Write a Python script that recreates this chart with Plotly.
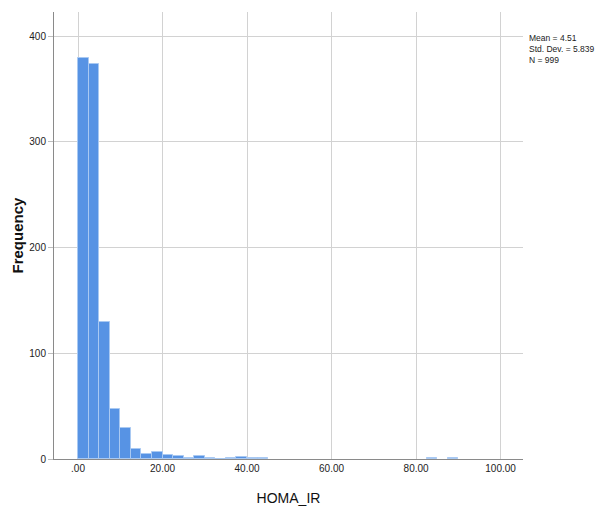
import plotly.graph_objects as go

# HOMA_IR histogram: bin lower edges (width 2.5) and frequencies
bin_width = 2.5
bin_starts = [0.0, 2.5, 5.0, 7.5, 10.0, 12.5, 15.0, 17.5, 20.0, 22.5,
              25.0, 27.5, 30.0, 32.5, 35.0, 37.5, 40.0, 42.5, 82.5, 87.5]
counts = [379, 374, 130, 47, 29, 9, 5, 7, 4, 3,
          1, 3, 1, 0, 1, 2, 1, 1, 1, 1]

x_ticks = [0, 20, 40, 60, 80, 100]
x_tick_labels = [".00", "20.00", "40.00", "60.00", "80.00", "100.00"]
y_ticks = [0, 100, 200, 300, 400]

stats_text = "Mean = 4.51<br>Std. Dev. = 5.839<br>N = 999"

centers = [s + bin_width / 2 for s in bin_starts]

fig = go.Figure(go.Bar(
    x=centers,
    y=counts,
    width=[bin_width] * len(counts),
    marker=dict(color="#5793e4", line=dict(color="#a9c9f2", width=1)),
    hoverinfo="x+y",
))

font_family = "Liberation Sans, Arial, sans-serif"

fig.update_layout(
    width=602,
    height=513,
    margin=dict(l=54, r=79, t=12, b=54),
    paper_bgcolor="white",
    plot_bgcolor="white",
    showlegend=False,
    bargap=0,
    font=dict(family=font_family, color="#222222", size=11),
    xaxis=dict(
        automargin=False,
        range=[-5.68, 105.3],
        tickvals=x_ticks,
        ticktext=x_tick_labels,
        showgrid=True,
        gridcolor="#d2d2d2",
        gridwidth=1,
        zeroline=False,
        showline=True,
        linecolor="#8a8a8a",
        linewidth=1,
        ticks="",
        tickfont=dict(size=10, color="#222222"),
        title=dict(text="HOMA_IR", font=dict(size=14, color="#111111"), standoff=20),
    ),
    yaxis=dict(
        automargin=False,
        range=[0, 422.7],
        tickvals=y_ticks,
        showgrid=True,
        gridcolor="#d2d2d2",
        gridwidth=1,
        zeroline=False,
        showline=True,
        linecolor="#8a8a8a",
        linewidth=1,
        ticks="outside",
        ticklen=5,
        tickcolor="#bdbdbd",
        tickfont=dict(size=10, color="#222222"),
    ),
    annotations=[
        dict(
            text=stats_text,
            xref="paper", yref="paper",
            x=1.0, y=1.0 - 19 / 447,
            xshift=4,
            xanchor="left", yanchor="top",
            align="left",
            showarrow=False,
            font=dict(size=8.5, color="#222222"),
        ),
        dict(
            text="<b>Frequency</b>",
            xref="paper", yref="paper",
            x=0, y=0.5,
            xshift=-37,
            xanchor="center", yanchor="middle",
            textangle=-90,
            showarrow=False,
            font=dict(size=15, color="#111111"),
        ),
    ],
)

fig.write_html("out.html")
